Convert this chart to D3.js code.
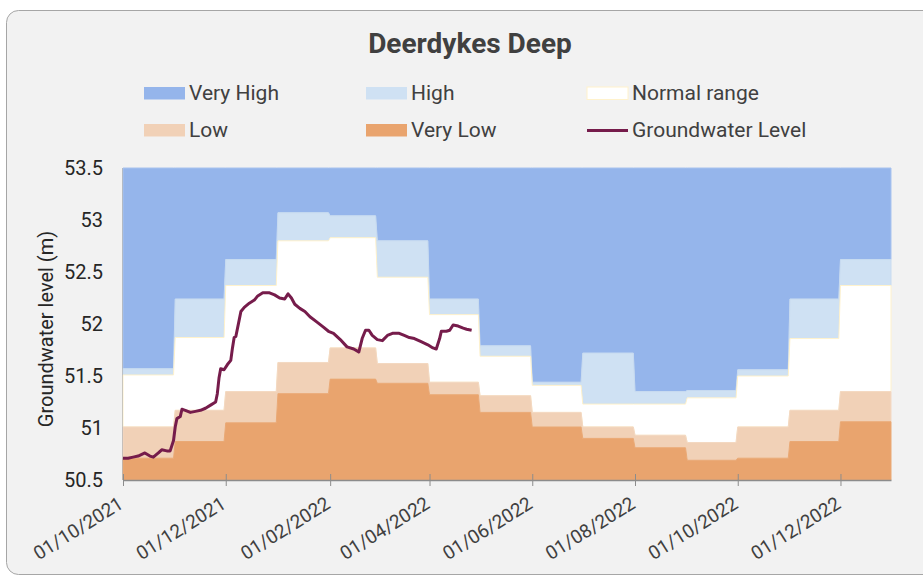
<!DOCTYPE html>
<html>
<head>
<meta charset="utf-8">
<script src="https://cdn.jsdelivr.net/npm/d3@7"></script>
<style>
  body { margin: 0; background: #fff; }
  text { font-family: Roboto, "Noto Sans", sans-serif; }
</style>
</head>
<body>
<div id="chart-container"></div>
<script>
// Monthly threshold bands (top of each band, m)
var months = ["2021-10-01", "2021-11-01", "2021-12-01", "2022-01-01", "2022-02-01", "2022-03-01", "2022-04-01",
              "2022-05-01", "2022-06-01", "2022-07-01", "2022-08-01", "2022-09-01", "2022-10-01", "2022-11-01", "2022-12-01"];
var veryLowTop = [50.71, 50.87, 51.05, 51.33, 51.47, 51.43, 51.32, 51.15, 51.01, 50.90, 50.81, 50.69, 50.71, 50.87, 51.06];
var lowTop     = [51.01, 51.17, 51.35, 51.63, 51.77, 51.62, 51.44, 51.31, 51.15, 51.01, 50.93, 50.86, 51.01, 51.17, 51.35];
var normalTop  = [51.51, 51.87, 52.37, 52.80, 52.83, 52.45, 52.09, 51.69, 51.41, 51.23, 51.23, 51.29, 51.50, 51.86, 52.37];
var highTop    = [51.57, 52.24, 52.62, 53.07, 53.04, 52.80, 52.24, 51.79, 51.44, 51.72, 51.35, 51.36, 51.56, 52.24, 52.62];

// Groundwater level readings
var levelDates = ["2021-10-01", "2021-10-04", "2021-10-07", "2021-10-10", "2021-10-14", "2021-10-17", "2021-10-19",
  "2021-10-22", "2021-10-24", "2021-10-27", "2021-10-29", "2021-10-31", "2021-11-01", "2021-11-02", "2021-11-04",
  "2021-11-05", "2021-11-07", "2021-11-10", "2021-11-13", "2021-11-16", "2021-11-19", "2021-11-22", "2021-11-25",
  "2021-11-26", "2021-11-27", "2021-11-28", "2021-11-30", "2021-12-02", "2021-12-04", "2021-12-05", "2021-12-06",
  "2021-12-07", "2021-12-09", "2021-12-10", "2021-12-12", "2021-12-15", "2021-12-18", "2021-12-20", "2021-12-23",
  "2021-12-27", "2021-12-30", "2022-01-02", "2022-01-05", "2022-01-07", "2022-01-09", "2022-01-11", "2022-01-14",
  "2022-01-17", "2022-01-20", "2022-01-24", "2022-01-28", "2022-01-31", "2022-02-03", "2022-02-07", "2022-02-11",
  "2022-02-15", "2022-02-18", "2022-02-20", "2022-02-22", "2022-02-24", "2022-02-26", "2022-03-01", "2022-03-04",
  "2022-03-07", "2022-03-10", "2022-03-14", "2022-03-17", "2022-03-20", "2022-03-23", "2022-03-27", "2022-03-31",
  "2022-04-03", "2022-04-05", "2022-04-07", "2022-04-08", "2022-04-11", "2022-04-13", "2022-04-15", "2022-04-18",
  "2022-04-21", "2022-04-23", "2022-04-26"];
var levelValues = [50.71, 50.71, 50.72, 50.73, 50.76, 50.73, 50.72,
  50.76, 50.79, 50.78, 50.78, 50.88, 51.01, 51.09, 51.11,
  51.18, 51.17, 51.15, 51.16, 51.17, 51.19, 51.22, 51.25,
  51.33, 51.48, 51.57, 51.56, 51.61, 51.65, 51.77, 51.87,
  51.88, 52.04, 52.12, 52.16, 52.20, 52.23, 52.27, 52.30,
  52.30, 52.28, 52.25, 52.24, 52.29, 52.25, 52.19, 52.15,
  52.12, 52.07, 52.02, 51.97, 51.93, 51.91, 51.85, 51.78,
  51.76, 51.73, 51.86, 51.94, 51.94, 51.89, 51.85, 51.84,
  51.89, 51.91, 51.91, 51.89, 51.87, 51.86, 51.83, 51.80,
  51.77, 51.76, 51.86, 51.93, 51.93, 51.94, 51.99, 51.98,
  51.96, 51.95, 51.94];

var xTickDates = ["2021-10-01", "2021-12-01", "2022-02-01", "2022-04-01", "2022-06-01", "2022-08-01", "2022-10-01", "2022-12-01"];
var yTicks = [50.5, 51, 51.5, 52, 52.5, 53, 53.5];

var parseDate = d3.timeParse("%Y-%m-%d");

var width = 923, height = 576;
var plotLeft = 123, plotRight = 891, plotTop = 168, plotBottom = 480;

var svg = d3.select("#chart-container")
    .append("svg")
    .attr("width", width)
    .attr("height", height);

// Card background
svg.append("rect")
    .attr("x", 6.5)
    .attr("y", 10.5)
    .attr("width", 940)
    .attr("height", 564)
    .attr("rx", 12)
    .attr("fill", "#f2f2f2")
    .attr("stroke", "#a6a6a6");

// Title
svg.append("text")
    .attr("x", 470)
    .attr("y", 53)
    .attr("text-anchor", "middle")
    .style("font-size", "28px")
    .style("font-weight", "bold")
    .style("fill", "#404040")
    .text("Deerdykes Deep");

var xScale = d3.scaleTime()
    .domain([parseDate("2021-10-01"), parseDate("2022-12-31")])
    .range([plotLeft, plotRight]);

var yScale = d3.scaleLinear()
    .domain([50.5, 53.5])
    .range([plotBottom, plotTop]);

// Build step data: each month holds its value from first to last day
function stepData(lower, upper) {
    var pts = [];
    months.forEach(function(m, i) {
        var start = parseDate(m);
        var end = d3.timeDay.offset(d3.timeMonth.offset(start, 1), -1);
        var lo = typeof lower === "number" ? lower : lower[i];
        var hi = typeof upper === "number" ? upper : upper[i];
        pts.push({date: start, lo: lo, hi: hi});
        pts.push({date: end, lo: lo, hi: hi});
    });
    return pts;
}

var area = d3.area()
    .x(function(d) { return xScale(d.date); })
    .y0(function(d) { return yScale(d.lo); })
    .y1(function(d) { return yScale(d.hi); });

var bands = [
    {name: "Very High", fill: "#95b5eb", stroke: "#a8c3ef", lower: highTop, upper: 53.5},
    {name: "High", fill: "#cfe1f3", stroke: "#c8dbf0", lower: normalTop, upper: highTop},
    {name: "Normal range", fill: "#ffffff", stroke: "#fff2cc", lower: lowTop, upper: normalTop},
    {name: "Low", fill: "#f1d1b7", stroke: "#f3d8c2", lower: veryLowTop, upper: lowTop},
    {name: "Very Low", fill: "#e9a46e", stroke: "#eaa975", lower: 50.5, upper: veryLowTop}
];

var bandsGroup = svg.append("g").attr("id", "bands");
bands.forEach(function(b) {
    bandsGroup.append("path")
        .datum(stepData(b.lower, b.upper))
        .attr("fill", b.fill)
        .attr("stroke", b.stroke)
        .attr("stroke-width", 1)
        .attr("d", area);
});

// Left edge line
svg.append("line")
    .attr("x1", plotLeft - 0.5).attr("x2", plotLeft - 0.5)
    .attr("y1", plotTop).attr("y2", plotBottom)
    .attr("stroke", "#9a9a9a")
    .attr("stroke-opacity", 0.5);

// Groundwater level line
var levelData = levelDates.map(function(d, i) { return {date: parseDate(d), value: levelValues[i]}; });
var line = d3.line()
    .x(function(d) { return xScale(d.date); })
    .y(function(d) { return yScale(d.value); });

svg.append("path")
    .datum(levelData)
    .attr("fill", "none")
    .attr("stroke", "#761c4b")
    .attr("stroke-width", 3)
    .attr("stroke-linejoin", "round")
    .attr("d", line);

// X axis
var xAxis = svg.append("g")
    .attr("transform", "translate(0," + plotBottom + ")")
    .call(d3.axisBottom(xScale)
        .tickValues(xTickDates.map(parseDate))
        .tickFormat(d3.timeFormat("%d/%m/%Y"))
        .tickSizeOuter(0));
xAxis.select(".domain").attr("stroke", "#8c8c8c").attr("stroke-width", 1.5);
xAxis.selectAll(".tick line").attr("y1", -6).attr("y2", 6).attr("stroke", "#8c8c8c");
xAxis.selectAll(".tick text")
    .attr("y", 0)
    .attr("dy", 0)
    .attr("text-anchor", "end")
    .attr("transform", "translate(1,27) rotate(-32)")
    .style("font-size", "19px")
    .style("fill", "#404040");

// Y axis (labels only)
var yAxis = svg.append("g")
    .attr("transform", "translate(" + plotLeft + ",0)")
    .call(d3.axisLeft(yScale)
        .tickValues(yTicks)
        .tickFormat(function(d) { return String(d); })
        .tickSize(0)
        .tickPadding(20));
yAxis.select(".domain").remove();
yAxis.selectAll(".tick text")
    .style("font-size", "20px")
    .style("fill", "#262626");

// Y axis title
svg.append("text")
    .attr("transform", "translate(53,329) rotate(-90)")
    .attr("text-anchor", "middle")
    .style("font-size", "20px")
    .style("fill", "#262626")
    .text("Groundwater level (m)");

// Legend
var legendItems = [
    {name: "Very High", fill: "#95b5eb", x: 144, y: 87},
    {name: "High", fill: "#cfe1f3", x: 366, y: 87},
    {name: "Normal range", fill: "#ffffff", stroke: "#fff2cc", x: 587, y: 87},
    {name: "Low", fill: "#f1d1b7", x: 144, y: 124},
    {name: "Very Low", fill: "#e9a46e", x: 366, y: 124},
    {name: "Groundwater Level", line: "#761c4b", x: 587, y: 124}
];

var legend = svg.append("g").attr("id", "legend");
legendItems.forEach(function(item) {
    if (item.line) {
        legend.append("line")
            .attr("x1", item.x).attr("x2", item.x + 41)
            .attr("y1", item.y + 6.5).attr("y2", item.y + 6.5)
            .attr("stroke", item.line)
            .attr("stroke-width", 3);
    } else {
        legend.append("rect")
            .attr("x", item.x)
            .attr("y", item.y)
            .attr("width", 41)
            .attr("height", 12.5)
            .attr("fill", item.fill)
            .attr("stroke", item.stroke || "none");
    }
    legend.append("text")
        .attr("x", item.x + 45)
        .attr("y", item.y + 13)
        .style("font-size", "21px")
        .style("fill", "#404040")
        .text(item.name);
});
</script>
</body>
</html>
